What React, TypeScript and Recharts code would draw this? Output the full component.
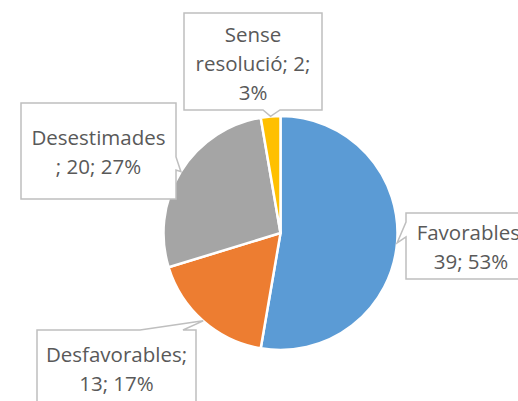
import React from 'react'
import { Cell, Pie, PieChart } from 'recharts'

const categories = ['Favorables', 'Desfavorables', 'Desestimades', 'Sense resolució']
const counts = [39, 13, 20, 2]
const percentLabels = ['53%', '17%', '27%', '3%']
// how Excel wrapped each data label
const labelLines = [
    ['Favorables;', '39; 53%'],
    ['Desfavorables;', '13; 17%'],
    ['Desestimades', '; 20; 27%'],
    ['Sense', 'resolució; 2;', '3%'],
]

const colors = ['#5B9BD5', '#ED7D31', '#A5A5A5', '#FFC000']

// callout boxes: rect, side carrying the pointer, pointer base (a, b), first baseline
const callouts = [
    { x: 406, y: 213, w: 130, h: 66, side: 'left', a: 222, b: 237, ty: 240 },
    { x: 37, y: 330, w: 159, h: 80, side: 'top', a: 140, b: 183, ty: 362 },
    { x: 21, y: 103, w: 155, h: 96, side: 'right', a: 157, b: 170, ty: 145 },
    { x: 184, y: 13, w: 138, h: 97, side: 'bottom', a: 263, b: 280, ty: 42 },
]

const data = categories.map((name, i) => ({ name, value: counts[i], pct: percentLabels[i] }))

const RADIAN = Math.PI / 180

const calloutPath = (c: any, tx: number, ty: number) => {
    const r = c.x + c.w
    const btm = c.y + c.h
    if (c.side === 'left')
        return `M${c.x},${c.y} H${r} V${btm} H${c.x} V${c.b} L${tx},${ty} L${c.x},${c.a} Z`
    if (c.side === 'right')
        return `M${c.x},${c.y} H${r} V${c.a} L${tx},${ty} L${r},${c.b} V${btm} H${c.x} Z`
    if (c.side === 'top')
        return `M${c.x},${c.y} H${c.a} L${tx},${ty} L${c.b},${c.y} H${r} V${btm} H${c.x} Z`
    return `M${c.x},${c.y} H${r} V${btm} H${c.b} L${tx},${ty} L${c.a},${btm} H${c.x} Z`
}

const renderCallout = (props: any) => {
    const { cx, cy, midAngle, outerRadius, index } = props
    const c = callouts[index]
    const tx = cx + outerRadius * Math.cos(-midAngle * RADIAN)
    const ty = cy + outerRadius * Math.sin(-midAngle * RADIAN)
    return (
        <g key={`callout-${index}`}>
            <path d={calloutPath(c, tx, ty)} fill="#fff" stroke="#BFBFBF" strokeWidth={1.5} />
            <text x={c.x + c.w / 2} y={c.ty} textAnchor="middle" fill="#595959"
                style={{ fontFamily: '"Open Sans", sans-serif', fontSize: 20.5 }}>
                {labelLines[index].map((line, j) => (
                    <tspan key={j} x={c.x + c.w / 2} dy={j === 0 ? 0 : 29}>{line}</tspan>
                ))}
            </text>
        </g>
    )
}

const App = () => {
    return (
        <div style={{ position: 'absolute', left: 0, top: 0, width: 518, height: 401, background: '#fff' }}>
            <PieChart width={518} height={401} margin={{ top: 0, right: 0, bottom: 0, left: 0 }}>
                <Pie data={data} dataKey="value" nameKey="name" cx={280.5} cy={233} outerRadius={117}
                    startAngle={90} endAngle={-270} stroke="#fff" strokeWidth={2.5}
                    label={renderCallout} labelLine={false} isAnimationActive={false}>
                    {data.map((d, i) => (
                        <Cell key={d.name} fill={colors[i]} />
                    ))}
                </Pie>
            </PieChart>
        </div>
    )
}

export default App
